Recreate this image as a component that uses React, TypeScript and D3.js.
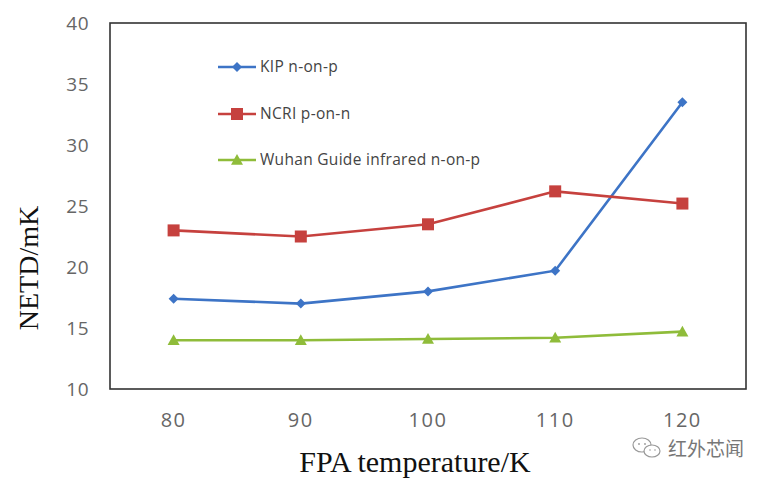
import React from "react";
import * as d3 from "d3";

const categories = ["80", "90", "100", "110", "120"];
const kip = [17.4, 17.0, 18.0, 19.7, 33.5];
const ncri = [23.0, 22.5, 23.5, 26.2, 25.2];
const wuhan = [14.0, 14.0, 14.1, 14.2, 14.7];
const yTicks = [10, 15, 20, 25, 30, 35, 40];
const seriesNames = ["KIP n-on-p", "NCRI p-on-n", "Wuhan Guide infrared n-on-p"];

const W = 769, H = 480;
const plot = { left: 110, right: 746, top: 23, bottom: 389 };

export default function App() {
  const x = d3.scaleBand().domain(categories).range([plot.left, plot.right]);
  const y = d3.scaleLinear().domain([10, 40]).range([plot.bottom, plot.top]);
  const cx = (c: string) => (x(c) as number) + x.bandwidth() / 2;

  const series = [
    { name: seriesNames[0], values: kip, color: "#3d74c6", marker: "diamond" },
    { name: seriesNames[1], values: ncri, color: "#c6413e", marker: "square" },
    { name: seriesNames[2], values: wuhan, color: "#8fbc3a", marker: "triangle" },
  ];

  const line = d3
    .line<number>()
    .x((_, i) => cx(categories[i]))
    .y((d) => y(d));

  const marker = (type: string, px: number, py: number, color: string, key: string) => {
    if (type === "diamond") {
      const s = 5;
      return (
        <path key={key} d={`M${px},${py - s}L${px + s},${py}L${px},${py + s}L${px - s},${py}Z`} fill={color} />
      );
    }
    if (type === "square") {
      const s = 6;
      return <rect key={key} x={px - s} y={py - s} width={2 * s} height={2 * s} fill={color} />;
    }
    const s = 6;
    return (
      <path key={key} d={`M${px},${py - s}L${px + s},${py + s * 0.8}L${px - s},${py + s * 0.8}Z`} fill={color} />
    );
  };

  const legendY = [67, 114, 160];

  return (
    <svg
      width={W}
      height={H}
      style={{ position: "absolute", left: 0, top: 0, background: "#fff" }}
      fontFamily="'Open Sans', 'DejaVu Sans', sans-serif"
    >
      <rect x={0} y={0} width={W} height={H} fill="#fff" />
      <rect
        x={plot.left}
        y={plot.top}
        width={plot.right - plot.left}
        height={plot.bottom - plot.top}
        fill="none"
        stroke="#333"
        strokeWidth={1.6}
      />
      {yTicks.map((t) => (
        <text key={t} x={89} y={y(t)} dy="0.35em" textAnchor="end" fontSize={19} fill="#666" letterSpacing={0.5}>
          {t}
        </text>
      ))}
      {categories.map((c) => (
        <text key={c} x={cx(c)} y={420} dy="0.35em" textAnchor="middle" fontSize={20} fill="#666" letterSpacing={1.5}>
          {c}
        </text>
      ))}
      <text
        transform={`translate(38,${(plot.top + plot.bottom) / 2 + 62}) rotate(-90)`}
        textAnchor="middle"
        fontSize={28}
        fontFamily="'Liberation Serif', 'DejaVu Serif', serif"
        fill="#111"
      >
        NETD/mK
      </text>
      <text
        x={415}
        y={472}
        textAnchor="middle"
        fontSize={30}
        fontFamily="'Liberation Serif', 'DejaVu Serif', serif"
        fill="#111"
      >
        FPA temperature/K
      </text>
      {series.map((s, si) => (
        <g key={s.name}>
          <path d={line(s.values) as string} fill="none" stroke={s.color} strokeWidth={2.6} />
          {s.values.map((v, i) => marker(s.marker, cx(categories[i]), y(v), s.color, `${si}-${i}`))}
        </g>
      ))}
      {series.map((s, si) => (
        <g key={"lg" + si}>
          <line x1={218} x2={256} y1={legendY[si]} y2={legendY[si]} stroke={s.color} strokeWidth={2.6} />
          {marker(s.marker, 237, legendY[si], s.color, "lm" + si)}
          <text x={260} y={legendY[si]} dy="0.35em" fontSize={15.5} fill="#444" letterSpacing={0.3}>
            {s.name}
          </text>
        </g>
      ))}
      <g transform="translate(647,448)" fill="none" stroke="#999" strokeWidth={1.2}>
        <ellipse cx={-5} cy={-3} rx={9} ry={7} />
        <ellipse cx={5} cy={3} rx={8} ry={6} fill="#fff" />
        <circle cx={-8} cy={-4} r={0.9} fill="#999" stroke="none" />
        <circle cx={-2} cy={-4} r={0.9} fill="#999" stroke="none" />
        <circle cx={3} cy={2} r={0.8} fill="#999" stroke="none" />
        <circle cx={8} cy={2} r={0.8} fill="#999" stroke="none" />
      </g>
      <text x={668} y={449} dy="0.35em" fontSize={19} fill="#777" fontFamily="'Noto Sans CJK SC', sans-serif">
        红外芯闻
      </text>
    </svg>
  );
}
